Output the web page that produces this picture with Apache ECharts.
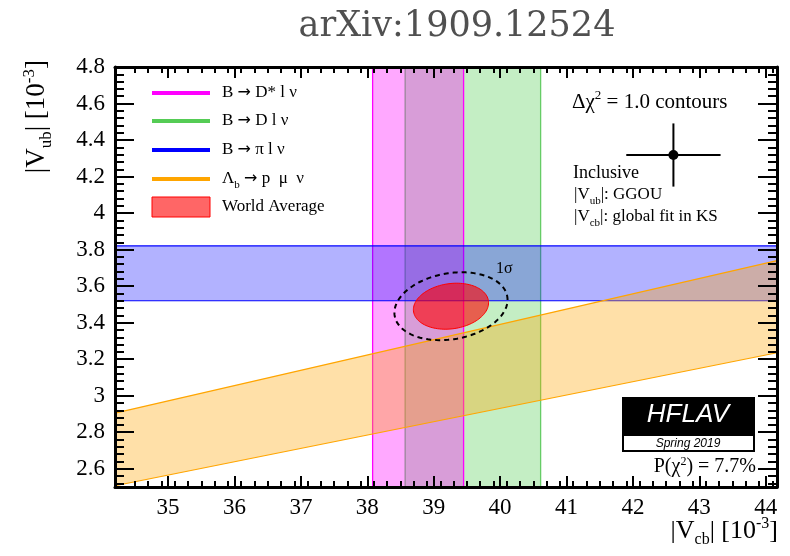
<!DOCTYPE html>
<html>
<head>
<meta charset="utf-8">
<script src="https://cdn.jsdelivr.net/npm/echarts@6/dist/echarts.min.js"></script>
<style>
html,body{margin:0;padding:0;background:#fff;}
#chart{width:790px;height:556px;}
</style>
</head>
<body>
<div id="chart"></div>
<script>
// ---- data ----
const xRange = [34.2, 44.17];
const yRange = [2.5, 4.8];
const xTicks = [35, 36, 37, 38, 39, 40, 41, 42, 43, 44];
const yTicks = [2.6, 2.8, 3.0, 3.2, 3.4, 3.6, 3.8, 4.0, 4.2, 4.4, 4.6, 4.8];
const bDstarVcb = [38.08, 39.45];      // B -> D* l nu band (Vcb)
const bDVcb = [38.57, 40.61];          // B -> D l nu band (Vcb)
const bPiVub = [3.52, 3.82];           // B -> pi l nu band (Vub)
const lambdaUpper = [[34.2, 2.905], [44.17, 3.74]];  // Lambda_b upper edge
const lambdaLower = [[34.2, 2.507], [44.17, 3.235]]; // Lambda_b lower edge
const worldAvg = [39.26, 3.49, 0.566, 0.126, 0.15];  // cx, cy, sx, sy, rho
const oneSigma = [39.26, 3.49, 0.852, 0.186, 0.19];
const inclusive = [42.61, 4.318, 0.71, 0.173];       // Vcb, Vub, errVcb, errVub

const minorX = [];
for (let i = 1721; i <= 2208; i++) { const v = i / 50; if (i % 10 !== 0 && i % 5 === 0 && v > xRange[0] && v < xRange[1]) minorX.push(v); }
const minorY = [];
for (let i = 63; i <= 119; i++) { const v = +(i * 0.04).toFixed(2); if (i % 5 !== 0 && v > yRange[0] && v < yRange[1]) minorY.push(v); }

const SERIF = 'Liberation Serif';
const chart = echarts.init(document.getElementById('chart'));

function xAx(pos, values, len, labels, line) {
  return {
    type: 'value', position: pos, min: xRange[0], max: xRange[1], z: 10,
    axisLine: {show: line, onZero: false, lineStyle: {color: '#000', width: 3}},
    axisTick: {show: true, inside: true, length: len, customValues: values, lineStyle: {color: '#000', width: 2}},
    axisLabel: labels ? {show: true, customValues: xTicks, margin: 9, fontFamily: SERIF, fontSize: 23, color: '#000'} : {show: false},
    splitLine: {show: false}, minorTick: {show: false}
  };
}
function yAx(pos, values, len, labels, line) {
  return {
    type: 'value', position: pos, min: yRange[0], max: yRange[1], z: 10,
    axisLine: {show: line, onZero: false, lineStyle: {color: '#000', width: 3}},
    axisTick: {show: true, inside: true, length: len, customValues: values, lineStyle: {color: '#000', width: 2}},
    axisLabel: labels ? {show: true, customValues: yTicks, margin: 10, fontFamily: SERIF, fontSize: 23, color: '#000',
      formatter: v => (Math.abs(v - Math.round(v)) < 1e-6 ? String(Math.round(v)) : v.toFixed(1))} : {show: false},
    splitLine: {show: false}, minorTick: {show: false}
  };
}

function vband(vals, fill, stroke) {
  return {
    type: 'custom', xAxisIndex: 0, yAxisIndex: 0, silent: true,
    data: [vals],
    renderItem: (params, api) => {
      const a = api.coord([api.value(0), yRange[1]]);
      const b = api.coord([api.value(1), yRange[0]]);
      return {type: 'group', children: [
        {type: 'rect', shape: {x: a[0], y: a[1], width: b[0] - a[0], height: b[1] - a[1]}, style: {fill: fill}},
        {type: 'line', shape: {x1: a[0], y1: a[1], x2: a[0], y2: b[1]}, style: {stroke: stroke, lineWidth: 1.3}},
        {type: 'line', shape: {x1: b[0], y1: a[1], x2: b[0], y2: b[1]}, style: {stroke: stroke, lineWidth: 1.3}}
      ]};
    }
  };
}
function ellipse(vals, style) {
  return {
    type: 'custom', xAxisIndex: 0, yAxisIndex: 0, silent: true,
    data: [vals],
    renderItem: (params, api) => {
      const cx = api.value(0), cy = api.value(1), sx = api.value(2), sy = api.value(3), rho = api.value(4);
      const pts = [];
      for (let k = 0; k < 120; k++) {
        const t = 2 * Math.PI * k / 120;
        pts.push(api.coord([cx + sx * Math.cos(t), cy + sy * (rho * Math.cos(t) + Math.sqrt(1 - rho * rho) * Math.sin(t))]));
      }
      return {type: 'polygon', shape: {points: pts}, style: style};
    }
  };
}

const series = [
  vband(bDVcb, 'rgba(60,200,60,0.30)', '#66cc66'),
  vband(bDstarVcb, 'rgba(255,0,255,0.34)', '#ff00ff'),
  {
    type: 'custom', xAxisIndex: 0, yAxisIndex: 0, silent: true, data: [bPiVub],
    renderItem: (params, api) => {
      const a = api.coord([xRange[0], api.value(1)]);
      const b = api.coord([xRange[1], api.value(0)]);
      return {type: 'group', children: [
        {type: 'rect', shape: {x: a[0], y: a[1], width: b[0] - a[0], height: b[1] - a[1]}, style: {fill: 'rgba(0,0,255,0.30)'}},
        {type: 'line', shape: {x1: a[0], y1: a[1], x2: b[0], y2: a[1]}, style: {stroke: '#0000ff', lineWidth: 1.2}},
        {type: 'line', shape: {x1: a[0], y1: b[1], x2: b[0], y2: b[1]}, style: {stroke: '#0000ff', lineWidth: 1.2}}
      ]};
    }
  },
  {
    type: 'custom', xAxisIndex: 0, yAxisIndex: 0, silent: true,
    data: [[lambdaUpper[0][0], lambdaUpper[0][1], lambdaUpper[1][0], lambdaUpper[1][1], lambdaLower[0][1], lambdaLower[1][1]]],
    renderItem: (params, api) => {
      const u0 = api.coord([api.value(0), api.value(1)]);
      const u1 = api.coord([api.value(2), api.value(3)]);
      const l0 = api.coord([api.value(0), api.value(4)]);
      const l1 = api.coord([api.value(2), api.value(5)]);
      return {type: 'group', children: [
        {type: 'polygon', shape: {points: [u0, u1, l1, l0]}, style: {fill: 'rgba(255,165,0,0.34)'}},
        {type: 'line', shape: {x1: u0[0], y1: u0[1], x2: u1[0], y2: u1[1]}, style: {stroke: '#ffa500', lineWidth: 1.2}},
        {type: 'line', shape: {x1: l0[0], y1: l0[1], x2: l1[0], y2: l1[1]}, style: {stroke: '#ffa500', lineWidth: 1.2}}
      ]};
    }
  },
  ellipse(worldAvg, {fill: 'rgba(255,0,0,0.6)', stroke: '#ff0000', lineWidth: 1}),
  ellipse(oneSigma, {fill: 'none', stroke: '#000', lineWidth: 2, lineDash: [5, 4]}),
  {
    type: 'custom', xAxisIndex: 0, yAxisIndex: 0, silent: true, data: [inclusive],
    renderItem: (params, api) => {
      const x = api.value(0), y = api.value(1), ex = api.value(2), ey = api.value(3);
      const c = api.coord([x, y]);
      const l = api.coord([x - ex, y]), r = api.coord([x + ex, y]);
      const t = api.coord([x, y + ey]), b = api.coord([x, y - ey]);
      return {type: 'group', children: [
        {type: 'line', shape: {x1: l[0], y1: l[1], x2: r[0], y2: r[1]}, style: {stroke: '#000', lineWidth: 2}},
        {type: 'line', shape: {x1: t[0], y1: t[1], x2: b[0], y2: b[1]}, style: {stroke: '#000', lineWidth: 2}},
        {type: 'circle', shape: {cx: c[0], cy: c[1], r: 5}, style: {fill: '#000'}}
      ]};
    }
  }
];

const richBase = (fs) => ({
  n: {fontFamily: SERIF, fontSize: fs, color: '#000', lineHeight: fs + 2},
  ar: {fontFamily: 'DejaVu Sans', fontSize: Math.round(fs * 0.95), color: '#000', lineHeight: fs + 2},
  sub: {fontFamily: SERIF, fontSize: Math.round(fs * 0.62), color: '#000', lineHeight: Math.round(fs * 0.62), padding: [Math.round(fs * 0.7), 0, 0, 0]},
  sup: {fontFamily: SERIF, fontSize: Math.round(fs * 0.62), color: '#000', lineHeight: Math.round(fs * 0.62), padding: [0, 0, Math.round(fs * 0.55), 0]}
});

function txt(x, y, text, fs, opts) {
  return Object.assign({type: 'text', x: x, y: y, z: 50, silent: true,
    style: {text: text, rich: richBase(fs), fontFamily: SERIF, fontSize: fs, fill: '#000', textAlign: 'left', textVerticalAlign: 'middle'}}, opts || {});
}

const legendItems = [
  {color: '#ff00ff', label: '{n|B }{ar|→}{n| D* l ν}', y: 93},
  {color: '#55cc55', label: '{n|B }{ar|→}{n| D l ν}', y: 121},
  {color: '#0000ff', label: '{n|B }{ar|→}{n| π l ν}', y: 150},
  {color: '#ffa500', label: '{n|Λ}{sub|b}{n| }{ar|→}{n| p  μ  ν}', y: 179}
];
const graphics = [
  {type: 'text', x: 457, y: 27, z: 50, silent: true, style: {text: 'arXiv:1909.12524', fontFamily: 'DejaVu Serif', fontSize: 35, fill: '#505050', textAlign: 'center', textVerticalAlign: 'middle'}}
];
legendItems.forEach(it => {
  graphics.push({type: 'line', z: 50, silent: true, shape: {x1: 152, y1: it.y, x2: 210, y2: it.y}, style: {stroke: it.color, lineWidth: 4}});
  graphics.push(txt(222, it.y, it.label, 17));
});
graphics.push({type: 'rect', z: 50, silent: true, shape: {x: 152, y: 197, width: 58, height: 20}, style: {fill: 'rgba(255,0,0,0.6)', stroke: '#ff0000', lineWidth: 1}});
graphics.push(txt(222, 207, '{n|World Average}', 17));
graphics.push(txt(572, 102, '{n|Δχ}{sup|2}{n| = 1.0 contours}', 21));
graphics.push(txt(573, 173, '{n|Inclusive}', 18));
graphics.push(txt(574, 195, '{n||V}{sub|ub}{n||: GGOU}', 17));
graphics.push(txt(574, 217, '{n||V}{sub|cb}{n||: global fit in KS}', 17));
graphics.push(txt(496, 269, '{n|1σ}', 16));
graphics.push({type: 'rect', z: 50, silent: true, shape: {x: 622, y: 397, width: 133, height: 55}, style: {fill: '#000'}});
graphics.push({type: 'rect', z: 51, silent: true, shape: {x: 624, y: 436, width: 129, height: 14}, style: {fill: '#fff'}});
graphics.push({type: 'text', x: 688, y: 415, z: 52, silent: true, style: {text: 'HFLAV', fontFamily: 'Liberation Sans', fontStyle: 'italic', fontSize: 26, fill: '#fff', textAlign: 'center', textVerticalAlign: 'middle'}});
graphics.push({type: 'text', x: 688, y: 444, z: 52, silent: true, style: {text: 'Spring 2019', fontFamily: 'Liberation Sans', fontStyle: 'italic', fontSize: 12, fill: '#000', textAlign: 'center', textVerticalAlign: 'middle'}});
graphics.push(txt(756, 467, '{n|P(χ}{sup|2}{n|) = 7.7%}', 20, {}));
graphics[graphics.length - 1].style.textAlign = 'right';
// axis titles
graphics.push(txt(778, 531, '{n||V}{sub|cb}{n|| [10}{sup|-3}{n|]}', 26));
graphics[graphics.length - 1].style.textAlign = 'right';
graphics.push(txt(37, 60, '{n||V}{sub|ub}{n|| [10}{sup|-3}{n|]}', 27, {rotation: Math.PI / 2}));
graphics[graphics.length - 1].style.textAlign = 'right';

chart.setOption({
  animation: false,
  backgroundColor: '#fff',
  grid: {left: 115, right: 13, top: 67, bottom: 69, containLabel: false},
  xAxis: [
    xAx('bottom', xTicks, 11, true, true),
    xAx('bottom', minorX, 6, false, false),
    xAx('top', xTicks, 11, false, true),
    xAx('top', minorX, 6, false, false)
  ],
  yAxis: [
    yAx('left', yTicks, 19, true, true),
    yAx('left', minorY, 9, false, false),
    yAx('right', yTicks, 19, false, true),
    yAx('right', minorY, 9, false, false)
  ],
  series: series,
  graphic: graphics
});
</script>
</body>
</html>
